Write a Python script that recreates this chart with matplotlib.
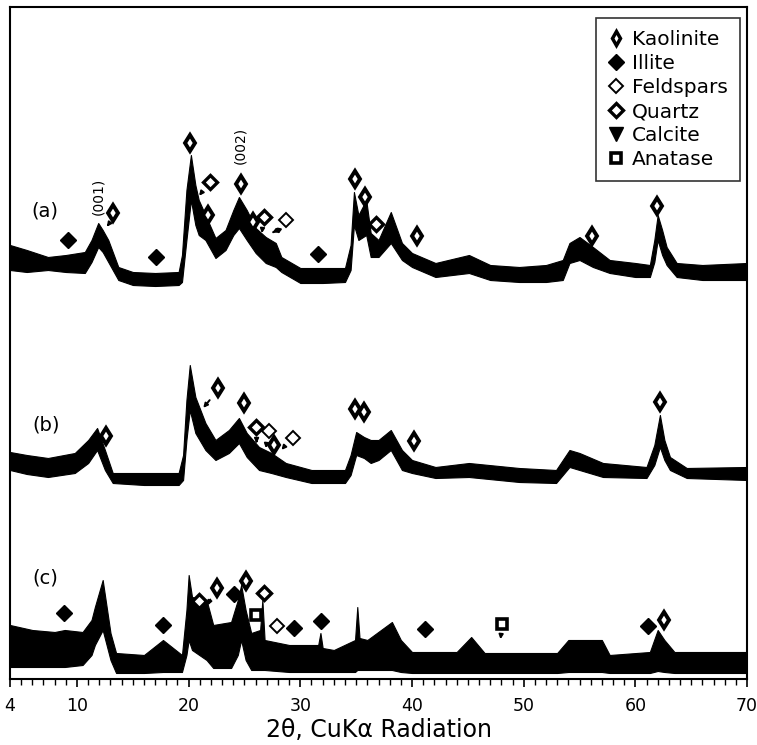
import matplotlib
matplotlib.use('Agg')
import matplotlib.pyplot as plt
from matplotlib.lines import Line2D
from matplotlib.ticker import MultipleLocator

# ---- XRD traces (2theta, upper / lower edge of the noisy band) ----
tt_a = [4.0, 5.5, 7.4, 9.0, 10.7, 11.3, 11.9, 12.3, 12.8, 13.7, 15.0, 17.0, 19.1, 19.4, 19.8, 20.2,
        20.6, 20.9, 21.5, 22.4, 23.3, 24.0, 24.5, 25.2, 26.0, 26.9, 27.8, 28.3, 30.0, 32.0, 34.0, 34.5,
        34.8, 35.2, 35.9, 36.3, 37.0, 38.1, 39.1, 40.0, 42.1, 45.1, 47.0, 49.6, 52.0, 53.5, 54.1, 55.0,
        56.2, 57.7, 60.0, 61.3, 61.7, 62.0, 62.4, 62.8, 63.7, 66.0, 70.0]
hi_a = [434, 429, 422, 424, 427, 439, 456, 449, 439, 412, 407, 406, 407, 424, 489, 524,
        494, 479, 464, 441, 449, 469, 482, 469, 451, 442, 436, 422, 411, 411, 411, 434,
        487, 464, 479, 446, 439, 467, 436, 426, 416, 424, 414, 412, 414, 419, 436, 442,
        432, 419, 416, 414, 439, 464, 449, 432, 416, 414, 416]
lo_a = [409, 407, 409, 407, 406, 417, 432, 427, 417, 399, 394, 393, 394, 397, 439, 479,
        454, 444, 439, 421, 429, 444, 451, 439, 426, 416, 412, 407, 396, 396, 397, 409,
        454, 439, 444, 422, 422, 436, 419, 412, 402, 406, 399, 397, 397, 399, 416, 419,
        412, 406, 402, 402, 417, 439, 424, 414, 402, 399, 399]

tt_b = [4.0, 5.5, 7.4, 9.8, 11.0, 11.8, 12.5, 13.2, 16.0, 19.1, 19.5, 19.8, 20.1, 20.6, 21.5, 22.4,
        23.6, 24.5, 25.2, 26.3, 27.4, 28.7, 31.0, 34.0, 34.5, 35.0, 35.7, 36.3, 37.0, 38.1, 39.1, 40.0,
        42.1, 45.1, 49.6, 52.9, 54.1, 55.0, 57.1, 61.0, 61.7, 62.2, 62.6, 63.1, 64.6, 70.0]
hi_b = [227, 224, 221, 226, 239, 251, 229, 206, 206, 206, 224, 279, 314, 282, 256, 239,
        249, 261, 246, 232, 226, 216, 209, 209, 224, 247, 242, 239, 239, 249, 229, 219,
        212, 216, 211, 209, 229, 226, 216, 212, 234, 264, 239, 222, 211, 212]
lo_b = [209, 205, 202, 206, 216, 229, 209, 196, 194, 194, 199, 239, 269, 246, 229, 219,
        226, 236, 222, 209, 206, 202, 196, 196, 204, 224, 221, 216, 219, 229, 209, 206,
        201, 202, 197, 196, 212, 209, 202, 201, 214, 232, 219, 209, 201, 199]

tt_c = [4.0, 6.0, 8.0, 8.9, 10.5, 11.3, 11.6, 12.3, 13.0, 13.5, 16.0, 17.7, 19.4, 19.8, 20.0, 20.3,
        21.6, 22.2, 23.8, 24.4, 24.7, 25.1, 25.6, 26.4, 26.6, 26.8, 29.0, 31.6, 31.8, 32.0, 33.0, 34.9,
        35.1, 35.3, 36.0, 38.2, 39.0, 40.0, 44.0, 45.3, 46.5, 53.0, 54.0, 57.0, 57.7, 61.3, 62.0, 62.6,
        63.5, 70.0]
hi_c = [54, 49, 47, 49, 47, 59, 72, 99, 46, 26, 24, 39, 24, 69, 104, 82,
        79, 54, 57, 79, 94, 69, 46, 49, 79, 39, 34, 34, 46, 31, 29, 39,
        72, 41, 39, 57, 39, 27, 27, 42, 26, 26, 39, 39, 24, 27, 49, 39,
        27, 27]
lo_c = [12, 12, 12, 12, 14, 24, 34, 49, 19, 6, 6, 7, 7, 24, 39, 29,
        19, 11, 11, 24, 39, 19, 9, 9, 9, 9, 7, 7, 7, 7, 7, 7,
        9, 9, 9, 9, 7, 6, 6, 6, 6, 6, 7, 7, 6, 6, 8, 7,
        6, 6]

# ---- phase markers (2theta, height) ----
kaol_x = [13.25, 20.16, 21.77, 24.65, 25.72, 34.88, 35.78, 40.45, 56.15, 61.9,
          12.62, 22.67, 25.0, 27.6, 34.88, 35.69, 40.18, 62.17,
          22.58, 25.1, 62.53]
kaol_y = [466, 536, 464, 495, 457, 500, 482, 443, 443, 473,
          243, 291, 276, 234, 270, 267, 238, 277,
          91, 98, 59]
illite_x = [9.2, 17.1, 31.56, 8.85, 17.73, 24.02, 29.4, 31.83, 41.16, 61.09]
illite_y = [439, 422, 425, 66, 54, 85, 51, 58, 50, 53]
quartz_x = [21.95, 26.71, 36.77, 25.99, 20.97, 26.71]
quartz_y = [497, 462, 455, 252, 78, 86]
feld_x = [28.69, 27.16, 29.31, 27.88]
feld_y = [459, 248, 241, 53]
anat_x = [25.99, 48.08]
anat_y = [64, 55]

# arrows: (start x, start y, end x, end y)
arrows = [(12.98, 457, 12.53, 450), (21.33, 489, 20.79, 481), (26.62, 452, 26.53, 443),
          (27.79, 448, 27.25, 445), (28.15, 452, 27.97, 442),
          (22.04, 281, 21.15, 269), (26.08, 242, 26.08, 233), (26.98, 237, 26.89, 228),
          (28.69, 234, 28.15, 227),
          (22.04, 82, 21.6, 71), (47.99, 46, 47.9, 37)]

fig = plt.figure(figsize=(7.57, 7.45), dpi=100)
ax = fig.add_axes([0.0132, 0.0886, 0.9736, 0.902])

for tt, hi, lo in [(tt_a, hi_a, lo_a), (tt_b, hi_b, lo_b), (tt_c, hi_c, lo_c)]:
    ax.fill_between(tt, lo, hi, color='black', lw=0.8, edgecolor='black')

ax.plot(kaol_x, kaol_y, ls='none', marker='d', ms=8.5, mfc='white', mec='black', mew=2.8, zorder=5)
ax.plot(illite_x, illite_y, ls='none', marker='D', ms=8, mfc='black', mec='black', mew=1, zorder=5)
ax.plot(quartz_x, quartz_y, ls='none', marker='D', ms=7, mfc='white', mec='black', mew=2.4, zorder=5)
ax.plot(feld_x, feld_y, ls='none', marker='D', ms=7.5, mfc='white', mec='black', mew=1.4, zorder=5)
ax.plot(anat_x, anat_y, ls='none', marker='s', ms=7, mfc='white', mec='black', mew=2.6, zorder=5)

for x0, y0, x1, y1 in arrows:
    ax.annotate('', xy=(x1, y1), xytext=(x0, y0),
                arrowprops=dict(arrowstyle='-|>', color='black', lw=1.4, mutation_scale=6))

ax.text(7.14, 468, '(a)', fontsize=14, ha='center', va='center')
ax.text(7.23, 254, '(b)', fontsize=14, ha='center', va='center')
ax.text(7.14, 101, '(c)', fontsize=14, ha='center', va='center')
ax.text(11.9, 483, '(001)', fontsize=10, rotation=90, ha='center', va='center')
ax.text(24.65, 534, '(002)', fontsize=10, rotation=90, ha='center', va='center')

handles = [
    Line2D([], [], ls='none', marker='d', ms=7.5, mfc='white', mec='black', mew=2.5),
    Line2D([], [], ls='none', marker='D', ms=8, mfc='black', mec='black'),
    Line2D([], [], ls='none', marker='D', ms=7.5, mfc='white', mec='black', mew=1.4),
    Line2D([], [], ls='none', marker='D', ms=7, mfc='white', mec='black', mew=2.4),
    Line2D([], [], ls='none', marker='v', ms=10, mfc='black', mec='black'),
    Line2D([], [], ls='none', marker='s', ms=7, mfc='white', mec='black', mew=2.6),
]
labels = ['Kaolinite', 'Illite', 'Feldspars', 'Quartz', 'Calcite', 'Anatase']
leg = ax.legend(handles, labels, loc='upper right', bbox_to_anchor=(0.9905, 0.9836),
                borderaxespad=0, fontsize=14.5, frameon=True, fancybox=False,
                edgecolor='black', handlelength=0.8, handletextpad=0.4, labelspacing=0.25,
                borderpad=0.6)
leg.get_frame().set_linewidth(1.2)

ax.set_xlim(4, 70)
ax.set_ylim(0, 672)
ax.set_yticks([])
ax.set_xticks([4, 10, 20, 30, 40, 50, 60, 70])
ax.xaxis.set_minor_locator(MultipleLocator(1))
ax.tick_params(axis='x', which='major', direction='out', length=6, width=1.2, labelsize=12.5, pad=7)
ax.tick_params(axis='x', which='minor', direction='out', length=4, width=1)
for s in ax.spines.values():
    s.set_linewidth(1.5)
ax.set_xlabel('2θ, CuKα Radiation', fontsize=17, labelpad=2)

plt.savefig('out.png', dpi=100)
